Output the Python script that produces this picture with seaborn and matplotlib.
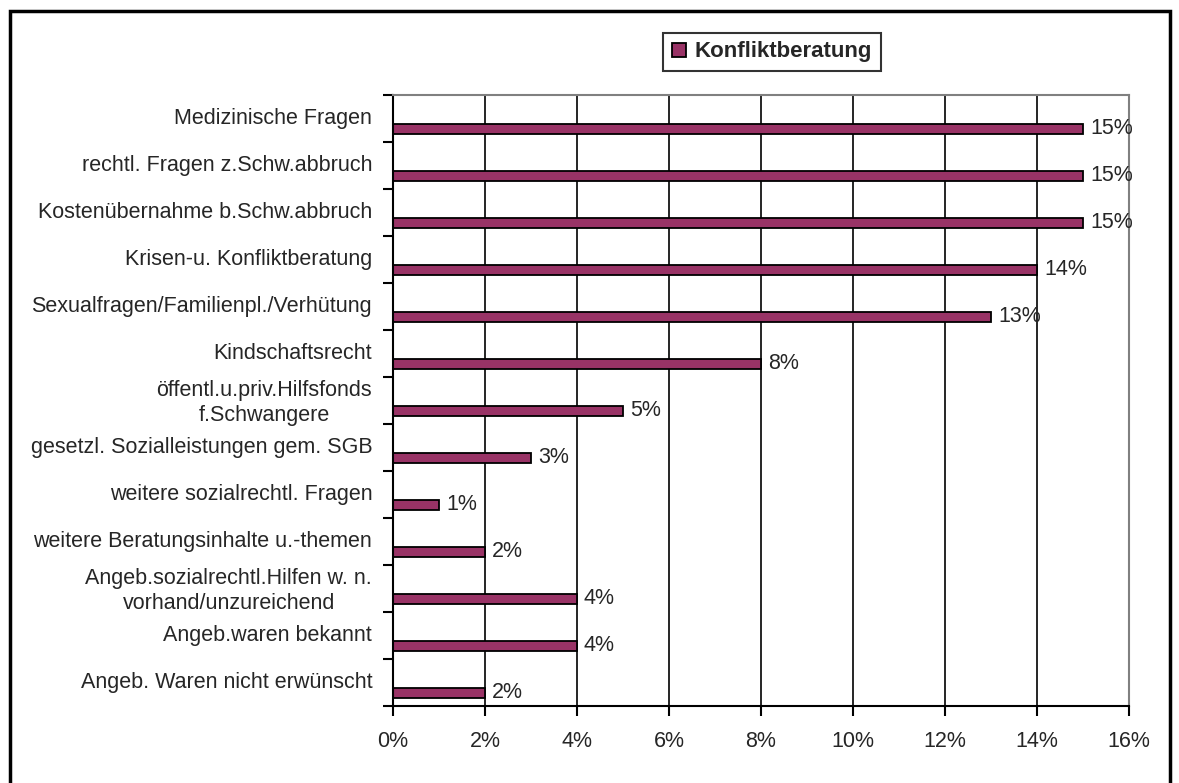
import matplotlib
matplotlib.use('Agg')
import matplotlib.pyplot as plt
import seaborn as sns
import numpy as np
import pandas as pd
from matplotlib.patches import Rectangle
from matplotlib.ticker import FuncFormatter

# Daten
kategorien = [
    'Medizinische Fragen',
    'rechtl. Fragen z.Schw.abbruch',
    'Kostenübernahme b.Schw.abbruch',
    'Krisen-u. Konfliktberatung',
    'Sexualfragen/Familienpl./Verhütung',
    'Kindschaftsrecht',
    'öffentl.u.priv.Hilfsfonds\nf.Schwangere',
    'gesetzl. Sozialleistungen gem. SGB',
    'weitere sozialrechtl. Fragen',
    'weitere Beratungsinhalte u.-themen',
    'Angeb.sozialrechtl.Hilfen w. n.\nvorhand/unzureichend',
    'Angeb.waren bekannt',
    'Angeb. Waren nicht erwünscht',
]
werte = [15, 15, 15, 14, 13, 8, 5, 3, 1, 2, 4, 4, 2]  # Prozent
serie = 'Konfliktberatung'
x_ticks = [0, 2, 4, 6, 8, 10, 12, 14, 16]

df = pd.DataFrame({'Kategorie': kategorien, 'Anteil': werte})

sns.set_style('white')
plt.rcParams['font.family'] = ['Liberation Sans', 'DejaVu Sans']

fig = plt.figure(figsize=(11.79, 7.83), dpi=100)
ax = fig.add_axes([393 / 1179, 1 - 706 / 783, (1129 - 393) / 1179, (706 - 95) / 783])

sns.barplot(data=df, x='Anteil', y='Kategorie', orient='h', ax=ax,
            color='#993366', edgecolor='black', linewidth=1.3, width=0.21,
            saturation=1, label=serie)

n = len(kategorien)
# Excel-artige Kategoriefelder: Balken im unteren Teil des Feldes
ax.set_ylim(n - 1 + 0.28, -0.72)
ax.set_yticks(np.arange(n) - 0.27)
ax.set_yticklabels(kategorien, fontsize=15.5, ha='right', multialignment='center',
                   linespacing=1.3)
ax.set_yticks(np.arange(n + 1) - 0.72, minor=True)
ax.tick_params(axis='y', which='major', length=0, pad=15)
ax.tick_params(axis='y', which='minor', length=7, width=1.5, direction='out', color='black', left=True)
ax.set_ylabel('')

ax.set_xlim(0, 16)
ax.set_xticks(x_ticks)
ax.xaxis.set_major_formatter(FuncFormatter(lambda v, p: f'{v:.0f}%'))
ax.tick_params(axis='x', length=7, width=1.5, direction='out', bottom=True, labelsize=15.5, pad=11, color='black')
ax.set_xlabel('')
ax.grid(axis='x', color='black', linewidth=1.2)
ax.set_axisbelow(True)

for s in ['left', 'bottom']:
    ax.spines[s].set_color('black')
    ax.spines[s].set_linewidth(1.5)
for s in ['top', 'right']:
    ax.spines[s].set_color('#808080')
    ax.spines[s].set_linewidth(1.5)

ax.bar_label(ax.containers[0], fmt='{:.0f}%', padding=5, fontsize=15.5)

leg = ax.legend(loc='center', bbox_to_anchor=(772 / 1179, 1 - 52 / 783),
                bbox_transform=fig.transFigure, fancybox=False, frameon=True,
                handlelength=0.6, handleheight=0.6, handletextpad=0.4,
                borderpad=0.4, prop={'weight': 'bold', 'size': 16})
leg.get_frame().set_edgecolor('black')
leg.get_frame().set_linewidth(1.5)

# Rahmen um die Grafik
fig.patches.append(Rectangle((10 / 1179, -0.02), (1170 - 10) / 1179, 1 - 11 / 783 + 0.02,
                             transform=fig.transFigure, fill=False,
                             edgecolor='black', linewidth=2.5))

fig.savefig('out.png', dpi=100)
